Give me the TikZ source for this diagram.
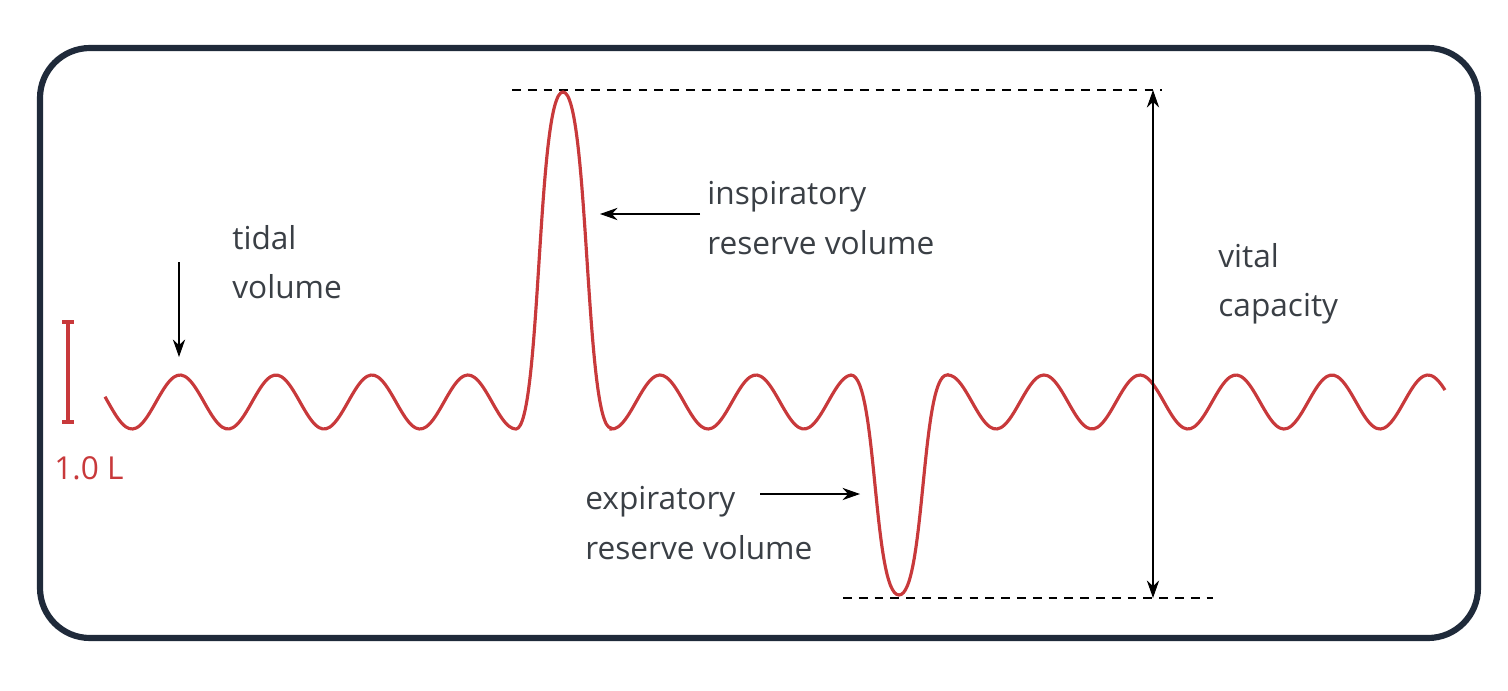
\documentclass[tikz,border=0pt]{standalone}
\usepackage{fontspec}
\setmainfont{Open Sans}
\usetikzlibrary{arrows.meta}
\definecolor{wavered}{HTML}{C8393B}
\definecolor{framenavy}{HTML}{1F2A3A}
\definecolor{textgray}{HTML}{3A3F45}
\tikzset{lbl/.style={align=left,anchor=west,text=textgray,font=\fontsize{18}{28}\selectfont,inner sep=0pt},
pointer/.style={-{Stealth[length=10pt,width=7pt]},semithick,black}}
\begin{document}
\begin{tikzpicture}[x=0.02cm,y=-0.02cm]
\useasboundingbox (0,0) rectangle (1508,690);
\draw[framenavy,line width=3.5pt,rounded corners=1cm] (40,48) rectangle (1478,638);
\draw[dashed,thick,dash pattern=on 5pt off 4pt] (512,90) -- (1162,90);
\draw[dashed,thick,dash pattern=on 5pt off 4pt] (843,598) -- (1213,598);
% the breathing trace
\draw[wavered,line width=1.8pt,smooth] plot[domain=105:516,samples=120] (\x,{402-27*cos(3.75*(\x-180))})
 .. controls (541,428) and (537,92) .. (563,92) .. controls (589,92) and (585,428) .. (611,428)
 -- plot[domain=611:851,samples=70] (\x,{402-27*cos(3.75*(\x-180))})
 .. controls (877,375) and (873,595) .. (899,595) .. controls (925,595) and (921,375) .. (947,375)
 -- plot[domain=947:1445,samples=140] (\x,{402-27*cos(3.75*(\x-180))});
% scale bar
\draw[wavered,line width=1.8pt] (62,322) -- (74,322) (68,322) -- (68,422) (62,422) -- (74,422);
\node[lbl,text=wavered] (scale) at (54,468) {1.0 L};
\node[lbl] (tidal) at (232,262) {tidal\\volume};
\node[lbl] (insp) at (707,218) {inspiratory\\reserve volume};
\node[lbl] (exp) at (585,523) {expiratory\\reserve volume};
\node[lbl] (vital) at (1218,284) {vital\\capacity};
\coordinate (tidaltip) at (179,357);
\coordinate (insptip) at (600,214);
\coordinate (exptip) at (860,494);
\coordinate (vctop) at (1153,90);
\coordinate (vcbot) at (1153,598);
\draw[pointer] (179,262) -- (tidaltip);
\draw[pointer] (insp.west|-insptip) ++(-7,0) -- (insptip);
\draw[pointer] (760,494) -- (exptip);
\draw[{Stealth[length=10pt,width=7pt]}-{Stealth[length=10pt,width=7pt]},semithick] (vctop) -- (vcbot);
\end{tikzpicture}
\end{document}
